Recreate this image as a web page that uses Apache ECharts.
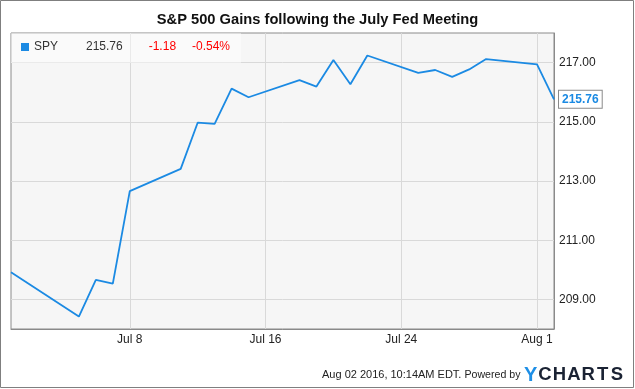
<!DOCTYPE html>
<html>
<head>
<meta charset="utf-8">
<style>
html,body{margin:0;padding:0;background:#fff;}
#chart{width:635px;height:389px;}
</style>
<script src="https://cdn.jsdelivr.net/npm/echarts@6/dist/echarts.min.js"></script>
</head>
<body>
<div id="chart"></div>
<script>
// Calendar days on the x axis (Jul 1 .. Aug 2, 2016)
var calendarDays = ['Jul 1','Jul 2','Jul 3','Jul 4','Jul 5','Jul 6','Jul 7','Jul 8','Jul 9','Jul 10',
  'Jul 11','Jul 12','Jul 13','Jul 14','Jul 15','Jul 16','Jul 17','Jul 18','Jul 19','Jul 20',
  'Jul 21','Jul 22','Jul 23','Jul 24','Jul 25','Jul 26','Jul 27','Jul 28','Jul 29','Jul 30',
  'Jul 31','Aug 1','Aug 2'];
var xTickLabels = ['Jul 8','Jul 16','Jul 24','Aug 1'];
var yTickLabels = [209, 211, 213, 215, 217];

// SPY closing prices on trading days
var tradingDays = ['Jul 1','Jul 5','Jul 6','Jul 7','Jul 8','Jul 11','Jul 12','Jul 13','Jul 14','Jul 15',
  'Jul 18','Jul 19','Jul 20','Jul 21','Jul 22','Jul 25','Jul 26','Jul 27','Jul 28','Jul 29','Aug 1','Aug 2'];
var spyValues = [209.92, 208.42, 209.66, 209.53, 212.66, 213.41, 214.97, 214.93, 216.12, 215.83,
  216.41, 216.19, 217.09, 216.27, 217.24, 216.65, 216.75, 216.52, 216.77, 217.12, 216.94, 215.76];

var seriesName = 'SPY';
var lastValue = '215.76';
var change = '-1.18';
var changePct = '-0.54%';

var FONT = '"Liberation Sans", Arial, sans-serif';
var BLUE = '#1b8ae3';

var chart = echarts.init(document.getElementById('chart'), null, {renderer: 'canvas'});
var option = {
  animation: false,
  textStyle: {fontFamily: FONT},
  title: {
    text: 'S&P 500 Gains following the July Fed Meeting',
    left: 'center',
    top: 7,
    textStyle: {fontFamily: FONT, fontSize: 14.7, fontWeight: 'bold', color: '#111'}
  },
  legend: {
    left: 11, top: 33,
    padding: [7, 11, 9, 10],
    backgroundColor: 'rgba(255,255,255,0.45)',
    selectedMode: false,
    itemWidth: 8, itemHeight: 8,
    icon: 'rect',
    data: [seriesName],
    formatter: function (name) {
      return '{n|' + name + '}{v|' + lastValue + '}{c|' + change + '}{p|' + changePct + '}';
    },
    textStyle: {
      fontFamily: FONT, fontSize: 12, color: '#333', lineHeight: 14,
      rich: {
        n: {width: 52, fontSize: 12, color: '#333', fontFamily: FONT},
        v: {width: 62.7, fontSize: 12, color: '#333', fontFamily: FONT},
        c: {width: 43.3, fontSize: 12, color: '#f00', fontFamily: FONT},
        p: {fontSize: 12, color: '#f00', fontFamily: FONT}
      }
    }
  },
  grid: {
    left: 11, right: 81, top: 33, bottom: 60,
    show: true,
    backgroundColor: '#f6f6f6',
    borderColor: '#8a8a8a',
    borderWidth: 1
  },
  xAxis: {
    type: 'category',
    data: calendarDays,
    boundaryGap: false,
    axisLine: {show: true, lineStyle: {color: '#8a8a8a'}},
    axisTick: {show: false},
    axisLabel: {
      interval: function (i, v) { return xTickLabels.indexOf(v) >= 0; },
      color: '#222', fontSize: 12, fontFamily: FONT, margin: 5
    },
    splitLine: {
      show: true,
      interval: function (i, v) { return xTickLabels.indexOf(v) >= 0; },
      lineStyle: {color: '#d9d9d9', width: 1}
    }
  },
  yAxis: {
    type: 'value',
    position: 'right',
    min: 208, max: 218, interval: 1,
    axisLine: {show: true, lineStyle: {color: '#8a8a8a'}},
    axisTick: {show: false},
    axisLabel: {
      color: '#222', fontSize: 12, fontFamily: FONT, margin: 5,
      formatter: function (v) { return yTickLabels.indexOf(v) >= 0 ? v.toFixed(2) : ''; }
    },
    splitLine: {show: true, lineStyle: {color: ['rgba(0,0,0,0)', '#d9d9d9'], width: 1}}
  },
  series: [{
    name: seriesName,
    type: 'line',
    data: tradingDays.map(function (d, i) { return [d, spyValues[i]]; }),
    showSymbol: false,
    symbol: 'none',
    lineStyle: {color: BLUE, width: 1.8},
    itemStyle: {color: BLUE},
    endLabel: {
      show: true,
      distance: 5,
      formatter: function (p) { return p.value[1].toFixed(2); },
      color: BLUE, fontWeight: 'bold', fontSize: 12, fontFamily: FONT,
      backgroundColor: '#fff', borderColor: '#8a8a8a', borderWidth: 1,
      padding: [3, 3, 2, 3]
    }
  }],
  graphic: [
    {
      type: 'rect', silent: true, z: 100,
      shape: {x: 0.5, y: 0.5, width: 633, height: 387},
      style: {fill: 'none', stroke: '#7f7f7f', lineWidth: 1}
    },
    {
      type: 'text', silent: true,
      x: 322, y: 375,
      style: {
        text: '{a|Aug 02 2016, 10:14AM EDT. }{b|Powered by}{y|Y}{c|C}{c|H}{c|A}{c|R}{c|T}{c|S}',
        verticalAlign: 'middle',
        rich: {
          a: {fontSize: 11, fontFamily: FONT, fill: '#222', verticalAlign: 'middle'},
          b: {fontSize: 10.6, fontFamily: FONT, fill: '#222', verticalAlign: 'middle', padding: [0, 3, 0, 0]},
          y: {fontSize: 20, fontWeight: 'bold', fontFamily: FONT, fill: '#1e8fe6', verticalAlign: 'middle', width: 14.4, align: 'center'},
          c: {fontSize: 18.5, fontWeight: 'bold', fontFamily: FONT, fill: '#1a2233', verticalAlign: 'middle', width: 14.4, align: 'center'}
        }
      }
    }
  ]
};
chart.setOption(option);
</script>
</body>
</html>
